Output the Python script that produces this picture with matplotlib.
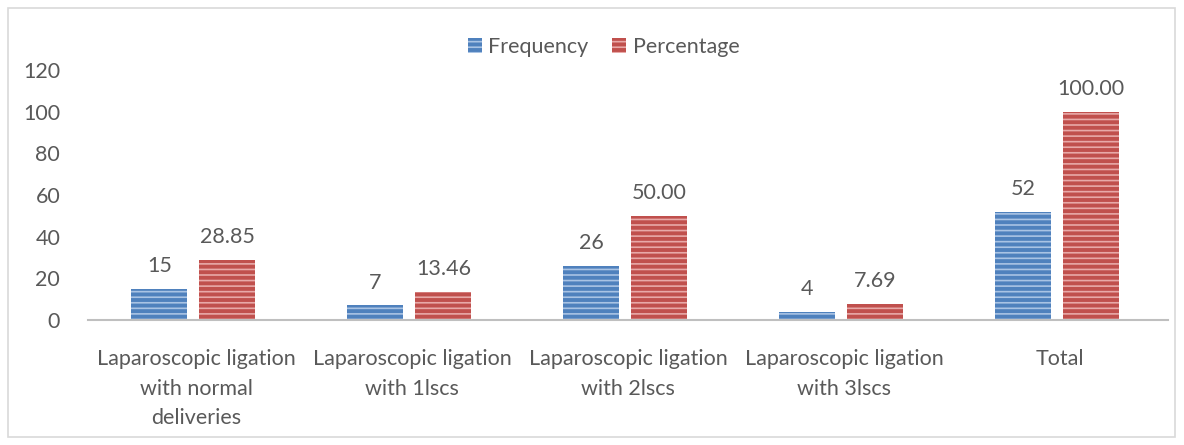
import matplotlib.pyplot as plt
import numpy as np
from matplotlib.patches import Rectangle

categories = ['Laparoscopic ligation\nwith normal\ndeliveries',
              'Laparoscopic ligation\nwith 1lscs',
              'Laparoscopic ligation\nwith 2lscs',
              'Laparoscopic ligation\nwith 3lscs',
              'Total']
frequency = [15, 7, 26, 4, 52]
percentage = [28.85, 13.46, 50.00, 7.69, 100.00]
freq_labels = ['15', '7', '26', '4', '52']
pct_labels = ['28.85', '13.46', '50.00', '7.69', '100.00']
yticks = [0, 20, 40, 60, 80, 100, 120]

plt.rcParams['font.family'] = ['Lato', 'DejaVu Sans']
plt.rcParams['hatch.linewidth'] = 1.2
text_color = '#595959'
fs = 15.5

fig = plt.figure(figsize=(11.84, 4.45), dpi=100)
ax = fig.add_axes([88 / 1184, 1 - 320 / 445, 1080 / 1184, 250 / 445])

x = np.arange(len(categories))
w = 0.26
b1 = ax.bar(x - 0.17, frequency, w, color='#4F81BD', edgecolor='#A9C3E4',
            linewidth=0, hatch='---', label='Frequency')
b2 = ax.bar(x + 0.145, percentage, w, color='#C0504D', edgecolor='#E8A9A8',
            linewidth=0, hatch='---', label='Percentage')

for rect, lab in zip(b1, freq_labels):
    ax.text(rect.get_x() + rect.get_width() / 2, rect.get_height() + 6, lab,
            ha='center', va='bottom', fontsize=fs, color=text_color)
for rect, lab in zip(b2, pct_labels):
    ax.text(rect.get_x() + rect.get_width() / 2, rect.get_height() + 6, lab,
            ha='center', va='bottom', fontsize=fs, color=text_color)

ax.set_xlim(-0.5, 4.5)
ax.set_ylim(0, 120)
ax.set_yticks(yticks)
ax.set_xticks(x)
ax.set_xticklabels(categories, fontsize=fs, color=text_color, linespacing=1.6)
ax.tick_params(axis='y', labelsize=fs, labelcolor=text_color, length=0, pad=20)
ax.tick_params(axis='x', length=0, pad=21)
for s in ['top', 'right', 'left']:
    ax.spines[s].set_visible(False)
ax.spines['bottom'].set_color('#BFBFBF')
ax.spines['bottom'].set_linewidth(1.5)

leg = fig.legend(handles=[b1, b2], loc='center', bbox_to_anchor=(0.51, 1 - 47 / 445),
                 ncol=2, frameon=False, fontsize=fs, handlelength=0.65, handleheight=0.65,
                 handletextpad=0.3, columnspacing=1.1)
for t in leg.get_texts():
    t.set_color(text_color)

fig.patches.append(Rectangle((8 / 1184, 8 / 445), 1167 / 1184, 429 / 445,
                             transform=fig.transFigure, fill=False,
                             edgecolor='#D9D9D9', linewidth=1.2))

fig.savefig('out.png', dpi=100)
